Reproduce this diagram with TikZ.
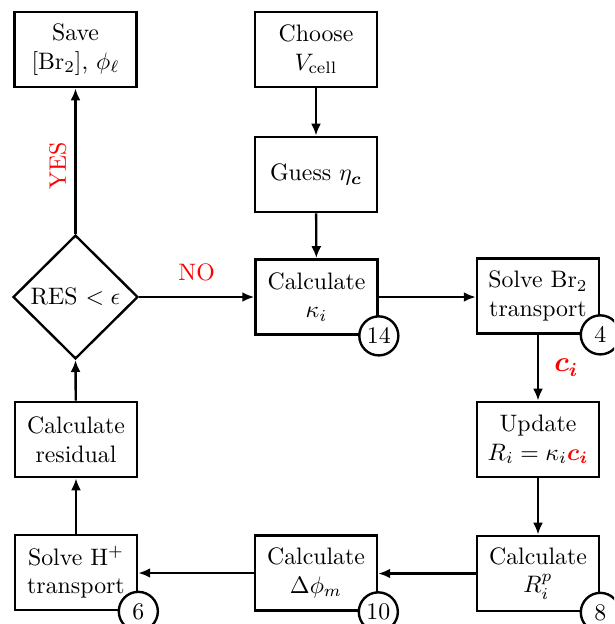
\documentclass[tikz,border=0pt]{standalone}
\usepackage{amsmath}
\usetikzlibrary{shapes.geometric,arrows.meta}
\begin{document}
\begin{tikzpicture}[x=0.42pt,y=-0.42pt,
  proc/.style={draw,line width=1.15pt,minimum width=51.2pt,minimum height=31.5pt,inner sep=1pt,align=center,font=\normalsize},
  dec/.style={draw,line width=1pt,shape=diamond,minimum width=52.5pt,minimum height=52pt,inner sep=0pt},
  num/.style={draw,line width=1pt,circle,fill=white,minimum size=16.4pt,inner sep=0pt},
  arr/.style={line width=1pt,-{Latex[length=5pt,width=4.2pt]}},
  lab/.style={text=red}]
\useasboundingbox (0,0) rectangle (614,624);
\clip (0,0) rectangle (614,624);
\node[proc] (save) at (75.5,49.5) {Save\\$[\mathrm{Br}_2]$, $\phi_\ell$};
\node[proc] (choose) at (316,49.5) {Choose\\$V_{\text{cell}}$};
\node[proc] (guess) at (316,174.5) {Guess $\eta_{\boldsymbol{c}}$};
\node[dec] (res) at (75.5,297) {RES $<\epsilon$};
\node[proc] (kap) at (316.5,297) {Calculate\\$\kappa_i$};
\node[proc] (br) at (538,296) {Solve Br$_2$\\transport};
\node[proc] (upd) at (538,439.5) {Update\\$R_i=\kappa_i{\color{red}\boldsymbol{c_i}}$};
\node[proc] (rp) at (538,573.5) {Calculate\\$R_i^p$};
\node[proc] (dphi) at (316,573) {Calculate\\$\Delta\phi_m$};
\node[proc] (hp) at (76,572.5) {Solve H$^+$\\transport};
\node[proc] (resid) at (76,439.5) {Calculate\\residual};
\draw[arr] (choose) -- (guess);
\draw[arr] (guess) -- (kap);
\draw[arr] (res.east) -- node[lab,above=3pt] {NO} (kap.west);
\draw[arr] (kap.east) -- (kap.east -| br.west);
\draw[arr] (br) -- node[lab,right=3pt,font=\large] {$\boldsymbol{c_i}$} (upd);
\draw[arr] (upd) -- (rp);
\draw[arr] (rp.west) -- (rp.west -| dphi.east);
\draw[arr] (dphi.west) -- (dphi.west -| hp.east);
\draw[arr] (hp) -- (resid);
\draw[arr] (resid) -- (res.south);
\draw[arr] (res.north) -- node[lab,rotate=90,left=2pt,anchor=south] {YES} (save);
\node[num] (n14) at (kap.south east) {14};
\node[num] (n4) at (br.south east) {4};
\node[num] (n8) at (rp.south east) {8};
\node[num] (n10) at (dphi.south east) {10};
\node[num] (n6) at (hp.south east) {6};
\end{tikzpicture}
\end{document}
